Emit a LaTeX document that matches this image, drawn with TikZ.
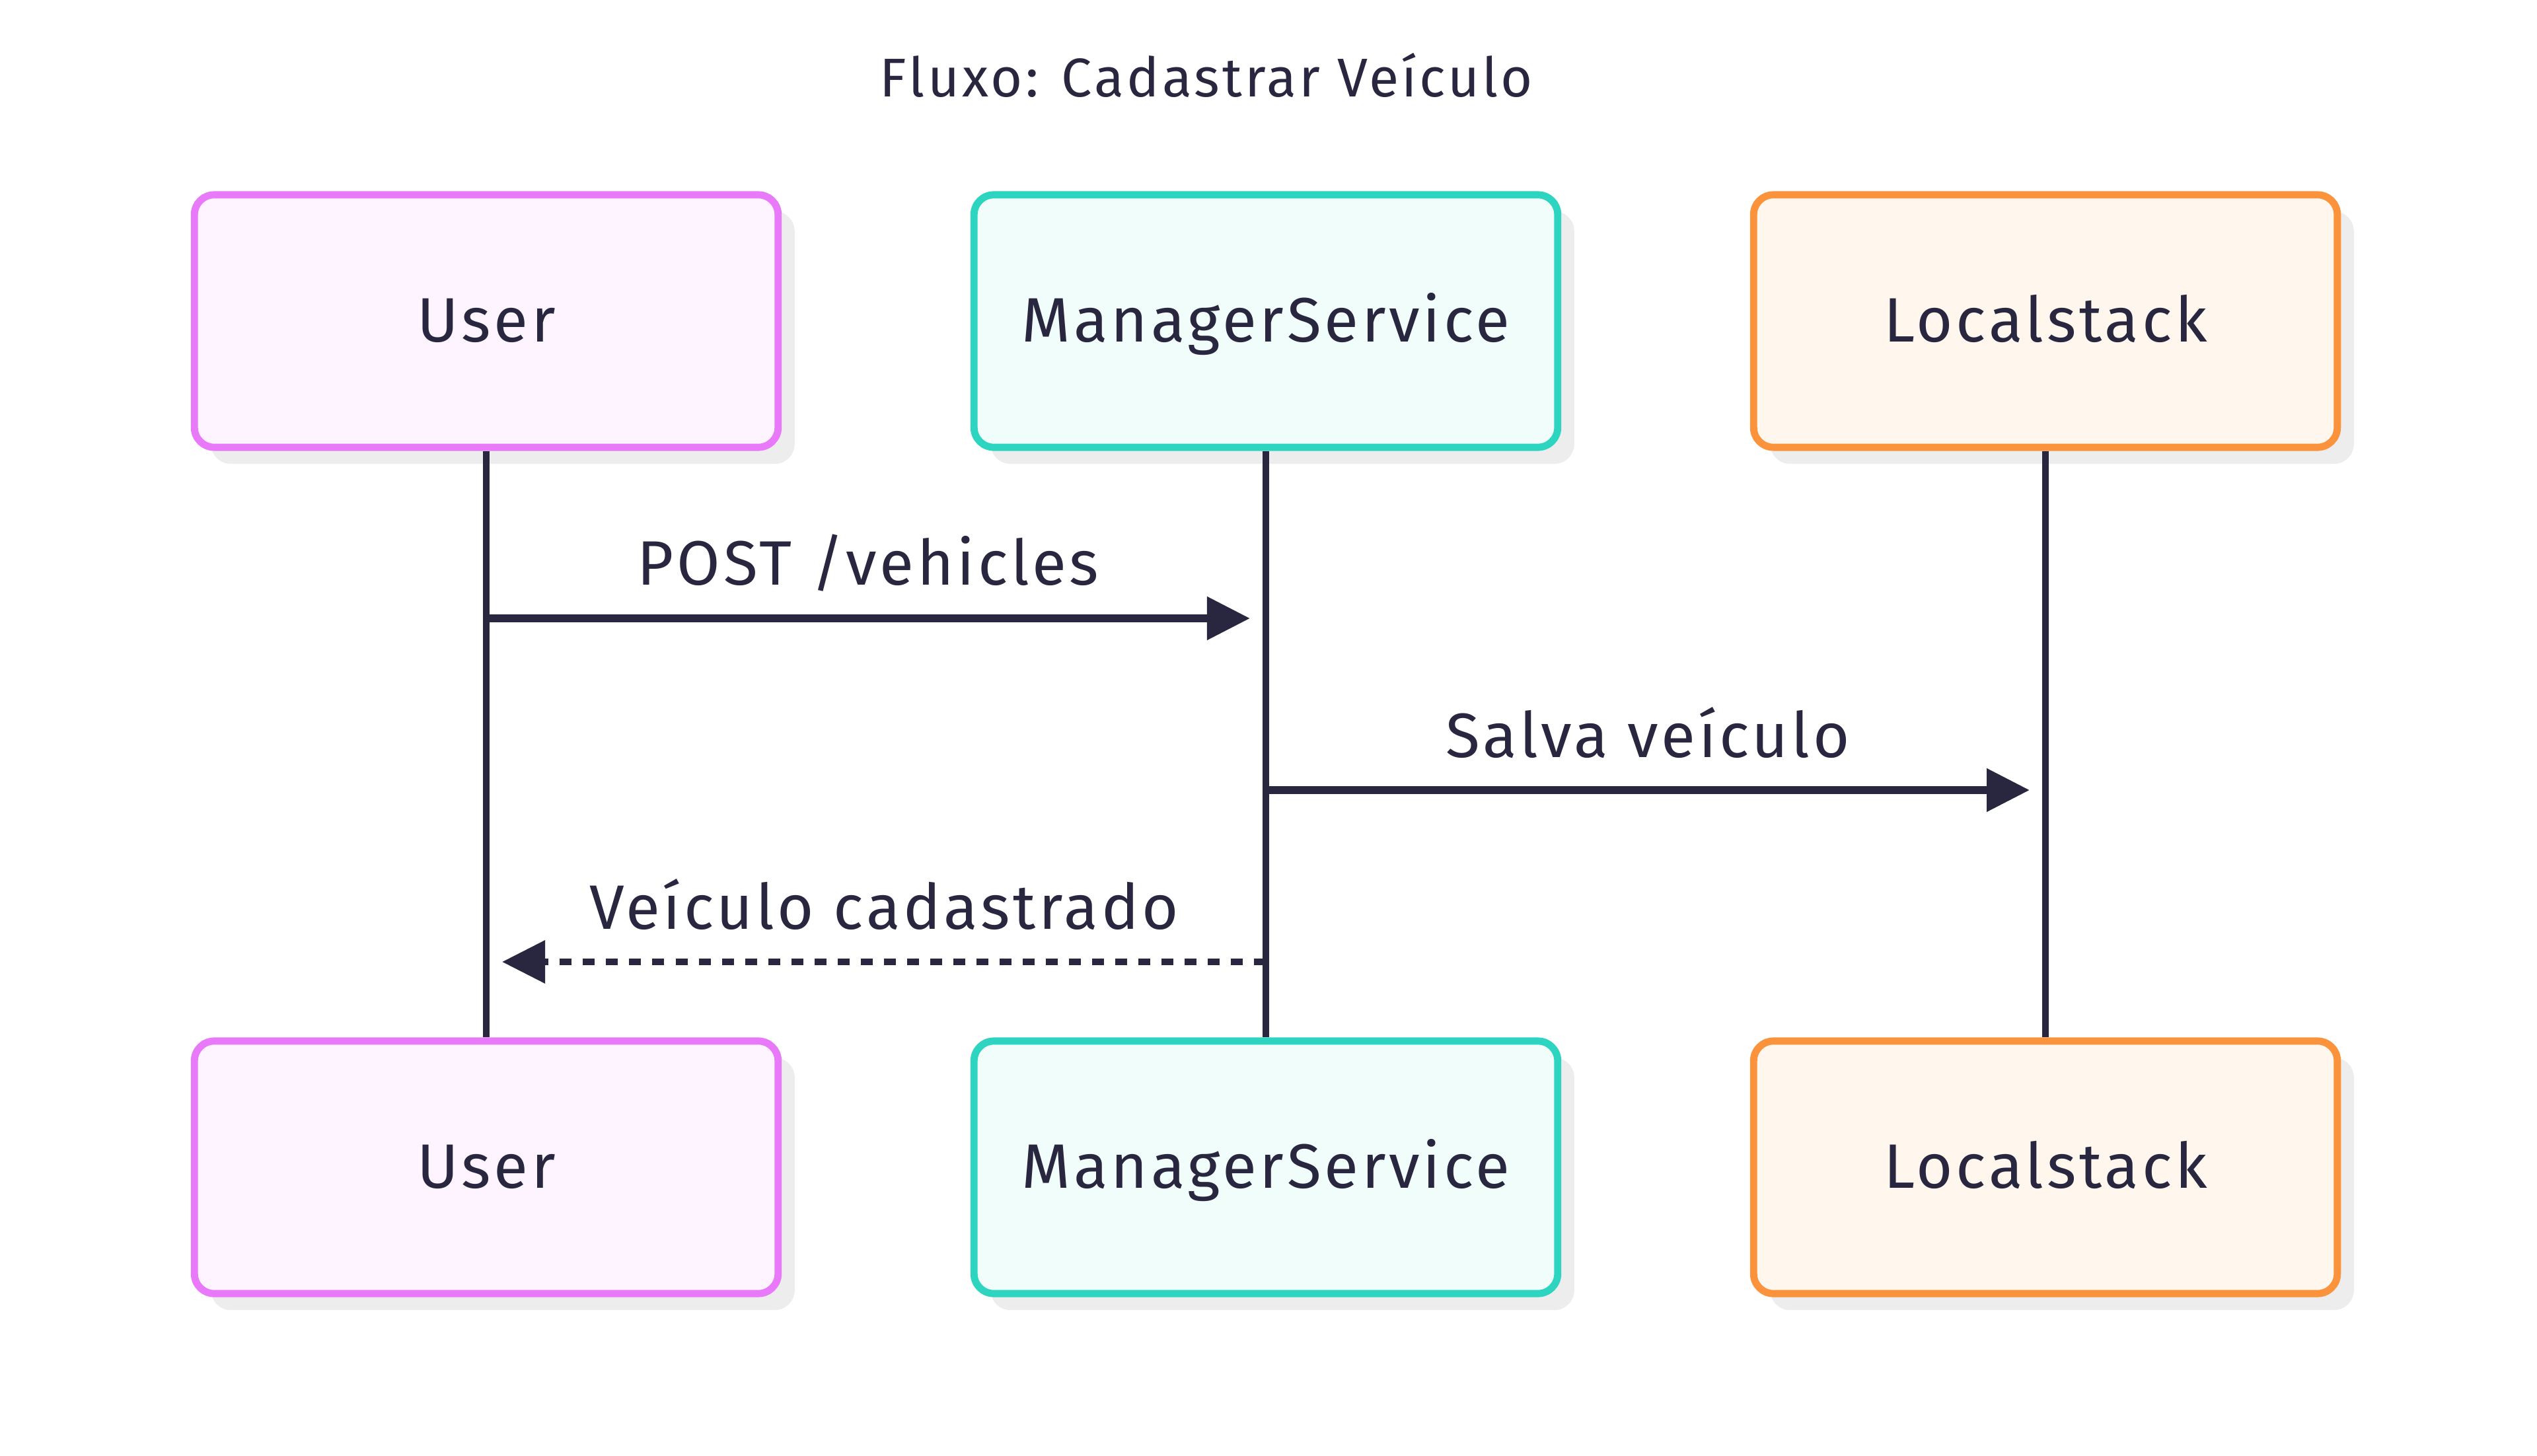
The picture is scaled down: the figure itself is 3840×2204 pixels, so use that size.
\documentclass[tikz,border=0pt]{standalone}
\usepackage{fontspec}
\setmainfont{Fira Sans}[LetterSpace=5]
\usetikzlibrary{arrows.meta,shadows}
\definecolor{ink}{HTML}{29273F}
\definecolor{userLine}{HTML}{E879F9}
\definecolor{userFill}{HTML}{FDF4FF}
\definecolor{mgrLine}{HTML}{2DD4BF}
\definecolor{mgrFill}{HTML}{F0FDFA}
\definecolor{lsLine}{HTML}{FB923C}
\definecolor{lsFill}{HTML}{FFF7ED}
\tikzset{
	actor/.style={draw=#1Line, fill=#1Fill, line width=3.1pt, rounded corners=0.3cm,
		minimum width=8.83cm, minimum height=3.82cm, text=ink,
		font=\fontsize{27}{32}\selectfont, text height=1.8em, text depth=0pt,
		drop shadow={shadow xshift=0.25cm, shadow yshift=-0.25cm, fill=black!7, opacity=1}},
	lifeline/.style={draw=ink, line width=2.8pt},
	msg/.style={draw=ink, line width=3.3pt, -{Triangle[length=6.5mm,width=6.3mm]}},
	reply/.style={msg, line width=2.9pt, dash pattern=on 1.8mm off 1.7mm},
	msglabel/.style={anchor=base, text=ink, font=\fontsize{27}{32}\selectfont}
}
\begin{document}
\begin{tikzpicture}[x=0.01cm,y=-0.01cm]
			\useasboundingbox (0,0) rectangle (3840,2204);
			\node[anchor=base, text=ink, font=\fontsize{23.5}{28}\selectfont] (title) at (1826,147) {Fluxo: Cadastrar Veículo};
			% participants
			\node[actor=user] (userTop) at (736,486) {User};
			\node[actor=mgr]  (mgrTop)  at (1916,486) {ManagerService};
			\node[actor=ls]   (lsTop)   at (3096,486) {Localstack};
			\node[actor=user] (userBot) at (736,1767) {User};
			\node[actor=mgr]  (mgrBot)  at (1916,1767) {ManagerService};
			\node[actor=ls]   (lsBot)   at (3096,1767) {Localstack};
			\draw[lifeline] (userTop) -- (userBot);
			\draw[lifeline] (mgrTop) -- (mgrBot);
			\draw[lifeline] (lsTop) -- (lsBot);
			% messages
			\coordinate (postFrom) at (736,936);
			\coordinate (postTo)   at (1892,936);
			\coordinate (saveFrom) at (1916,1196);
			\coordinate (saveTo)   at (3072,1196);
			\coordinate (backFrom) at (1916,1456);
			\coordinate (backTo)   at (760,1456);
			\draw[msg] (postFrom) -- (postTo);
			\draw[msg] (saveFrom) -- (saveTo);
			\draw[reply] (backFrom) -- (backTo);
			\node[msglabel] (postLabel) at (1314,886) {POST /vehicles};
			\node[msglabel] (saveLabel) at (2494,1146) {Salva veículo};
			\node[msglabel] (backLabel) at (1338,1406) {Veículo cadastrado};
		\end{tikzpicture}
\end{document}
